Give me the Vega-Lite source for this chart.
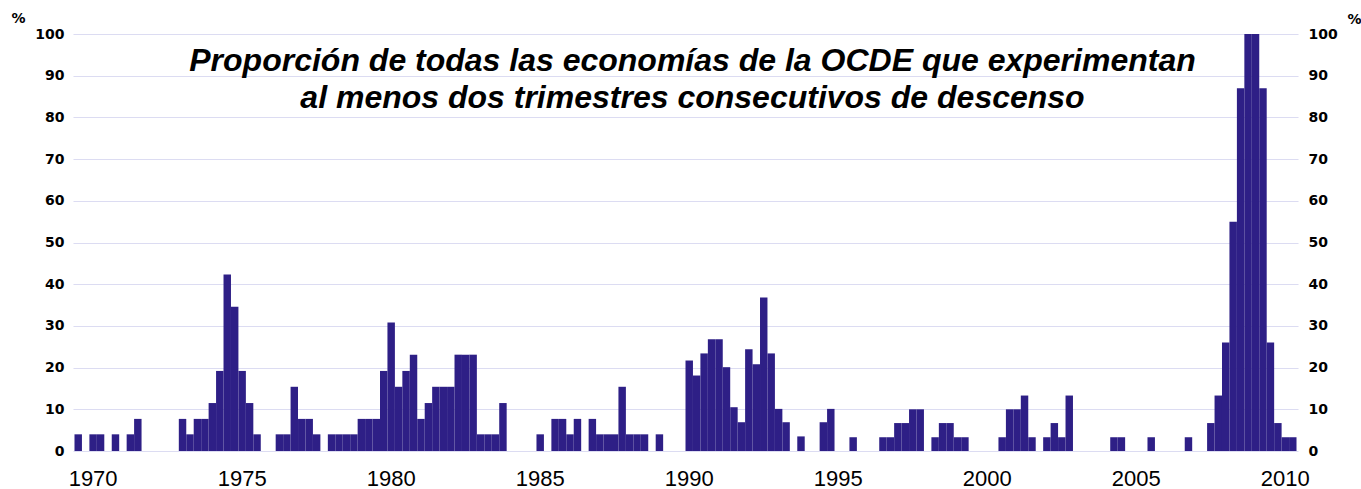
{
  "$schema": "https://vega.github.io/schema/vega-lite/v6.json",
  "width": 1225,
  "height": 417,
  "autosize": {"type": "none"},
  "padding": {"left": 73, "top": 34, "right": 63, "bottom": 38},
  "background": "white",
  "config": {"view": {"stroke": null}, "font": "Liberation Sans"},
  "title": {
    "text": ["Proporción de todas las economías de la OCDE que experimentan", "al menos dos trimestres consecutivos de descenso"],
    "font": "Liberation Sans", "fontSize": 32, "fontStyle": "italic", "fontWeight": "bold", "color": "#000000",
    "anchor": "middle", "lineHeight": 37, "offset": 0, "dx": 7, "dy": 104
  },
  "data": {"values": [
    {"q": "1969Q3", "v": 4}, {"q": "1969Q4", "v": 0},
    {"q": "1970Q1", "v": 4}, {"q": "1970Q2", "v": 4}, {"q": "1970Q3", "v": 0}, {"q": "1970Q4", "v": 4},
    {"q": "1971Q1", "v": 0}, {"q": "1971Q2", "v": 4}, {"q": "1971Q3", "v": 7.7}, {"q": "1971Q4", "v": 0},
    {"q": "1972Q1", "v": 0}, {"q": "1972Q2", "v": 0}, {"q": "1972Q3", "v": 0}, {"q": "1972Q4", "v": 0},
    {"q": "1973Q1", "v": 7.7}, {"q": "1973Q2", "v": 4}, {"q": "1973Q3", "v": 7.7}, {"q": "1973Q4", "v": 7.7},
    {"q": "1974Q1", "v": 11.5}, {"q": "1974Q2", "v": 19.2}, {"q": "1974Q3", "v": 42.3}, {"q": "1974Q4", "v": 34.6},
    {"q": "1975Q1", "v": 19.2}, {"q": "1975Q2", "v": 11.5}, {"q": "1975Q3", "v": 4}, {"q": "1975Q4", "v": 0},
    {"q": "1976Q1", "v": 0}, {"q": "1976Q2", "v": 4}, {"q": "1976Q3", "v": 4}, {"q": "1976Q4", "v": 15.4},
    {"q": "1977Q1", "v": 7.7}, {"q": "1977Q2", "v": 7.7}, {"q": "1977Q3", "v": 4}, {"q": "1977Q4", "v": 0},
    {"q": "1978Q1", "v": 4}, {"q": "1978Q2", "v": 4}, {"q": "1978Q3", "v": 4}, {"q": "1978Q4", "v": 4},
    {"q": "1979Q1", "v": 7.7}, {"q": "1979Q2", "v": 7.7}, {"q": "1979Q3", "v": 7.7}, {"q": "1979Q4", "v": 19.2},
    {"q": "1980Q1", "v": 30.8}, {"q": "1980Q2", "v": 15.4}, {"q": "1980Q3", "v": 19.2}, {"q": "1980Q4", "v": 23.1},
    {"q": "1981Q1", "v": 7.7}, {"q": "1981Q2", "v": 11.5}, {"q": "1981Q3", "v": 15.4}, {"q": "1981Q4", "v": 15.4},
    {"q": "1982Q1", "v": 15.4}, {"q": "1982Q2", "v": 23.1}, {"q": "1982Q3", "v": 23.1}, {"q": "1982Q4", "v": 23.1},
    {"q": "1983Q1", "v": 4}, {"q": "1983Q2", "v": 4}, {"q": "1983Q3", "v": 4}, {"q": "1983Q4", "v": 11.5},
    {"q": "1984Q1", "v": 0}, {"q": "1984Q2", "v": 0}, {"q": "1984Q3", "v": 0}, {"q": "1984Q4", "v": 0},
    {"q": "1985Q1", "v": 4}, {"q": "1985Q2", "v": 0}, {"q": "1985Q3", "v": 7.7}, {"q": "1985Q4", "v": 7.7},
    {"q": "1986Q1", "v": 4}, {"q": "1986Q2", "v": 7.7}, {"q": "1986Q3", "v": 0}, {"q": "1986Q4", "v": 7.7},
    {"q": "1987Q1", "v": 4}, {"q": "1987Q2", "v": 4}, {"q": "1987Q3", "v": 4}, {"q": "1987Q4", "v": 15.4},
    {"q": "1988Q1", "v": 4}, {"q": "1988Q2", "v": 4}, {"q": "1988Q3", "v": 4}, {"q": "1988Q4", "v": 0},
    {"q": "1989Q1", "v": 4}, {"q": "1989Q2", "v": 0}, {"q": "1989Q3", "v": 0}, {"q": "1989Q4", "v": 0},
    {"q": "1990Q1", "v": 21.7}, {"q": "1990Q2", "v": 18.1}, {"q": "1990Q3", "v": 23.4}, {"q": "1990Q4", "v": 26.8},
    {"q": "1991Q1", "v": 26.8}, {"q": "1991Q2", "v": 20.1}, {"q": "1991Q3", "v": 10.5}, {"q": "1991Q4", "v": 6.9},
    {"q": "1992Q1", "v": 24.4}, {"q": "1992Q2", "v": 20.8}, {"q": "1992Q3", "v": 36.8}, {"q": "1992Q4", "v": 23.4},
    {"q": "1993Q1", "v": 10.1}, {"q": "1993Q2", "v": 6.9}, {"q": "1993Q3", "v": 0}, {"q": "1993Q4", "v": 3.5},
    {"q": "1994Q1", "v": 0}, {"q": "1994Q2", "v": 0}, {"q": "1994Q3", "v": 6.9}, {"q": "1994Q4", "v": 10.1},
    {"q": "1995Q1", "v": 0}, {"q": "1995Q2", "v": 0}, {"q": "1995Q3", "v": 3.3}, {"q": "1995Q4", "v": 0},
    {"q": "1996Q1", "v": 0}, {"q": "1996Q2", "v": 0}, {"q": "1996Q3", "v": 3.3}, {"q": "1996Q4", "v": 3.3},
    {"q": "1997Q1", "v": 6.7}, {"q": "1997Q2", "v": 6.7}, {"q": "1997Q3", "v": 10}, {"q": "1997Q4", "v": 10},
    {"q": "1998Q1", "v": 0}, {"q": "1998Q2", "v": 3.3}, {"q": "1998Q3", "v": 6.7}, {"q": "1998Q4", "v": 6.7},
    {"q": "1999Q1", "v": 3.3}, {"q": "1999Q2", "v": 3.3}, {"q": "1999Q3", "v": 0}, {"q": "1999Q4", "v": 0},
    {"q": "2000Q1", "v": 0}, {"q": "2000Q2", "v": 0}, {"q": "2000Q3", "v": 3.3}, {"q": "2000Q4", "v": 10},
    {"q": "2001Q1", "v": 10}, {"q": "2001Q2", "v": 13.3}, {"q": "2001Q3", "v": 3.3}, {"q": "2001Q4", "v": 0},
    {"q": "2002Q1", "v": 3.3}, {"q": "2002Q2", "v": 6.7}, {"q": "2002Q3", "v": 3.3}, {"q": "2002Q4", "v": 13.3},
    {"q": "2003Q1", "v": 0}, {"q": "2003Q2", "v": 0}, {"q": "2003Q3", "v": 0}, {"q": "2003Q4", "v": 0},
    {"q": "2004Q1", "v": 0}, {"q": "2004Q2", "v": 3.3}, {"q": "2004Q3", "v": 3.3}, {"q": "2004Q4", "v": 0},
    {"q": "2005Q1", "v": 0}, {"q": "2005Q2", "v": 0}, {"q": "2005Q3", "v": 3.3}, {"q": "2005Q4", "v": 0},
    {"q": "2006Q1", "v": 0}, {"q": "2006Q2", "v": 0}, {"q": "2006Q3", "v": 0}, {"q": "2006Q4", "v": 3.3},
    {"q": "2007Q1", "v": 0}, {"q": "2007Q2", "v": 0}, {"q": "2007Q3", "v": 6.7}, {"q": "2007Q4", "v": 13.3},
    {"q": "2008Q1", "v": 26}, {"q": "2008Q2", "v": 55}, {"q": "2008Q3", "v": 87}, {"q": "2008Q4", "v": 100},
    {"q": "2009Q1", "v": 100}, {"q": "2009Q2", "v": 87}, {"q": "2009Q3", "v": 26}, {"q": "2009Q4", "v": 6.7},
    {"q": "2010Q1", "v": 3.3}, {"q": "2010Q2", "v": 3.3}
  ]},
  "encoding": {
    "x": {
      "field": "q", "type": "ordinal", "sort": null,
      "scale": {"paddingInner": 0, "paddingOuter": 0.2},
      "axis": {
        "values": ["1970Q1", "1975Q1", "1980Q1", "1985Q1", "1990Q1", "1995Q1", "2000Q1", "2005Q1", "2010Q1"],
        "labelExpr": "substring(datum.label, 0, 4)",
        "labelAngle": 0, "ticks": false, "domain": false, "grid": false,
        "labelFont": "Liberation Sans", "labelFontSize": 22, "labelColor": "#000000",
        "labelPadding": 17, "title": null, "bandPosition": 0.3, "labelOverlap": false, "labelBound": false
      }
    }
  },
  "layer": [
    {
      "mark": {"type": "bar", "color": "#2e1f86"},
      "encoding": {
        "y": {
          "field": "v", "type": "quantitative",
          "scale": {"domain": [0, 100], "nice": false},
          "axis": {
            "values": [0, 10, 20, 30, 40, 50, 60, 70, 80, 90, 100],
            "grid": true, "gridColor": "#dcdcf2", "gridWidth": 1.2,
            "domain": false, "ticks": false,
            "labelFont": "DejaVu Sans", "labelFontWeight": "bold", "labelFontSize": 14, "labelColor": "#000000",
            "labelPadding": 9,
            "title": "%", "titleAngle": 0, "titleX": -55, "titleY": -16, "titleAlign": "center", "titleBaseline": "middle",
            "titleFont": "DejaVu Sans", "titleFontSize": 14, "titleFontWeight": "bold", "titleColor": "#000000"
          }
        }
      }
    },
    {
      "mark": {"type": "bar", "opacity": 0},
      "encoding": {
        "y": {
          "field": "v", "type": "quantitative",
          "scale": {"domain": [0, 100], "nice": false},
          "axis": {
            "orient": "right",
            "values": [0, 10, 20, 30, 40, 50, 60, 70, 80, 90, 100],
            "grid": false, "domain": false, "ticks": false,
            "labelFont": "DejaVu Sans", "labelFontWeight": "bold", "labelFontSize": 14, "labelColor": "#000000",
            "labelPadding": 10,
            "title": "%", "titleAngle": 0, "titleX": 56, "titleY": -15, "titleAlign": "center", "titleBaseline": "middle",
            "titleFont": "DejaVu Sans", "titleFontSize": 14, "titleFontWeight": "bold", "titleColor": "#000000"
          }
        }
      }
    }
  ],
  "resolve": {"scale": {"y": "independent"}}
}
